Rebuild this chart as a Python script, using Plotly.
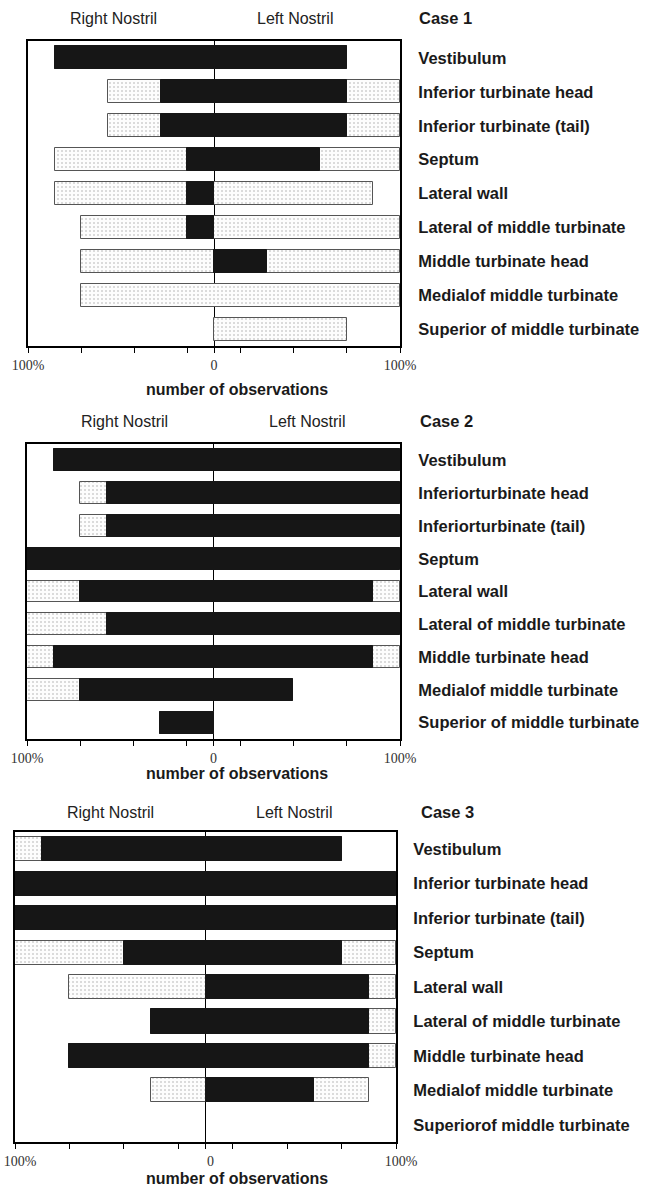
import plotly.graph_objects as go

W, H = 653, 1187

# counts out of 7 observations; right nostril drawn to the left (negative)
cats1 = ["Vestibulum", "Inferior turbinate head", "Inferior turbinate (tail)", "Septum",
         "Lateral wall", "Lateral of middle turbinate", "Middle turbinate head",
         "Medialof middle turbinate", "Superior of middle turbinate"]
right_total1 = [6, 4, 4, 6, 6, 5, 5, 5, 0]
right_black1 = [6, 2, 2, 1, 1, 1, 0, 0, 0]
left_black1 = [5, 5, 5, 4, 0, 0, 2, 0, 0]
left_total1 = [5, 7, 7, 7, 6, 7, 7, 7, 5]

cats2 = ["Vestibulum", "Inferiorturbinate head", "Inferiorturbinate (tail)", "Septum",
         "Lateral wall", "Lateral of middle turbinate", "Middle turbinate head",
         "Medialof middle turbinate", "Superior of middle turbinate"]
right_total2 = [6, 5, 5, 7, 7, 7, 7, 7, 2]
right_black2 = [6, 4, 4, 7, 5, 4, 6, 5, 2]
left_black2 = [7, 7, 7, 7, 6, 7, 6, 3, 0]
left_total2 = [7, 7, 7, 7, 7, 7, 7, 3, 0]

cats3 = ["Vestibulum", "Inferior turbinate head", "Inferior turbinate (tail)", "Septum",
         "Lateral wall", "Lateral of middle turbinate", "Middle turbinate head",
         "Medialof middle turbinate", "Superiorof middle turbinate"]
right_total3 = [7, 7, 7, 7, 5, 2, 5, 2, 0]
right_black3 = [6, 7, 7, 3, 0, 2, 5, 0, 0]
left_black3 = [5, 7, 7, 5, 6, 6, 6, 4, 0]
left_total3 = [5, 7, 7, 7, 7, 7, 7, 6, 0]

case_titles = ["Case 1", "Case 2", "Case 3"]
tick_vals = [-7, -5, -3, -1, 0, 1, 3, 5, 7]
tick_text = ["100%", "", "", "", "0", "", "", "", "100%"]

panels = [
    dict(cats=cats1, rt=right_total1, rb=right_black1, lb=left_black1, lt=left_total1,
         px=(28, 400), py=(41, 346), bw=0.68, rn=113, ln=295, hy=18, cx=417, ny=389, shift=0),
    dict(cats=cats2, rt=right_total2, rb=right_black2, lb=left_black2, lt=left_total2,
         px=(27, 400), py=(444, 739), bw=0.67, rn=124, ln=307, hy=421, cx=418, ny=773, shift=0),
    dict(cats=cats3, rt=right_total3, rb=right_black3, lb=left_black3, lt=left_total3,
         px=(15, 396), py=(832, 1142), bw=0.70, rn=110, ln=294, hy=812, cx=419, ny=1178, shift=5),
]

FS = 16
fig = go.Figure()
annotations = []
for i, p in enumerate(panels):
    n = "" if i == 0 else str(i + 1)
    ypos = list(range(len(p["cats"])))
    dot_len = [r + l if r + l > 0 else None for r, l in zip(p["rt"], p["lt"])]
    dot_base = [-r for r in p["rt"]]
    blk_len = [r + l if r + l > 0 else None for r, l in zip(p["rb"], p["lb"])]
    blk_base = [-r for r in p["rb"]]
    fig.add_trace(go.Bar(
        orientation="h", y=ypos, x=dot_len, base=dot_base, width=p["bw"],
        marker=dict(color="white",
                    pattern=dict(shape=".", fgcolor="#a8a8a8", bgcolor="#fdfdfd",
                                 size=4, solidity=0.22),
                    line=dict(color="#555555", width=1)),
        xaxis="x" + n, yaxis="y" + n, showlegend=False, hoverinfo="skip"))
    fig.add_trace(go.Bar(
        orientation="h", y=ypos, x=blk_len, base=blk_base, width=p["bw"],
        marker=dict(color="#161616", line=dict(color="#161616", width=1)),
        xaxis="x" + n, yaxis="y" + n, showlegend=False, hoverinfo="skip"))

    x0, x1 = p["px"][0] / W, p["px"][1] / W
    y0, y1 = 1 - p["py"][1] / H, 1 - p["py"][0] / H
    fig.layout["xaxis" + n] = dict(
        domain=[x0, x1], range=[-7, 7], anchor="y" + n, automargin=False,
        tickvals=tick_vals, ticktext=tick_text, ticks="outside", ticklen=5,
        tickcolor="black", tickwidth=1, ticklabeloverflow="allow", ticklabelshift=p["shift"],
        showline=True, mirror=True, linecolor="black", linewidth=2,
        zeroline=True, zerolinecolor="black", zerolinewidth=1.3,
        showgrid=False, layer="above traces",
        tickfont=dict(family="Liberation Serif", size=14, color="#333333"))
    fig.layout["yaxis" + n] = dict(
        domain=[y0, y1], range=[len(ypos) - 0.5, -0.5], anchor="x" + n, automargin=False,
        tickvals=ypos, ticktext=p["cats"], side="right", ticks="",
        ticklabelstandoff=13 if i < 2 else 12, ticklabeloverflow="allow",
        showline=True, mirror=True, linecolor="black", linewidth=2,
        zeroline=False, showgrid=False, layer="above traces",
        tickfont=dict(family="Liberation Sans", size=16.5, color="#1a1a1a", weight="bold"))

    annotations += [
        dict(text="Right Nostril", x=p["rn"] / W, y=1 - p["hy"] / H, xref="paper", yref="paper",
             xanchor="center", yanchor="middle", showarrow=False,
             font=dict(family="Liberation Sans", size=FS, color="#222222")),
        dict(text="Left Nostril", x=p["ln"] / W, y=1 - p["hy"] / H, xref="paper", yref="paper",
             xanchor="center", yanchor="middle", showarrow=False,
             font=dict(family="Liberation Sans", size=FS, color="#222222")),
        dict(text=case_titles[i], x=p["cx"] / W, y=1 - p["hy"] / H, xref="paper", yref="paper",
             xanchor="left", yanchor="middle", showarrow=False,
             font=dict(family="Liberation Sans", size=16.5, color="#1a1a1a", weight="bold")),
        dict(text="number of observations", x=237 / W, y=1 - p["ny"] / H, xref="paper", yref="paper",
             xanchor="center", yanchor="middle", showarrow=False, borderpad=0,
             font=dict(family="Liberation Sans", size=16, color="#1a1a1a", weight="bold")),
    ]

fig.update_layout(
    width=W, height=H, margin=dict(l=0, r=0, t=0, b=0, autoexpand=False),
    paper_bgcolor="white", plot_bgcolor="white",
    barmode="overlay", bargap=0, annotations=annotations,
)
fig.write_html("out.html", config={"displayModeBar": False},
               post_script="document.body.style.margin='0';")
